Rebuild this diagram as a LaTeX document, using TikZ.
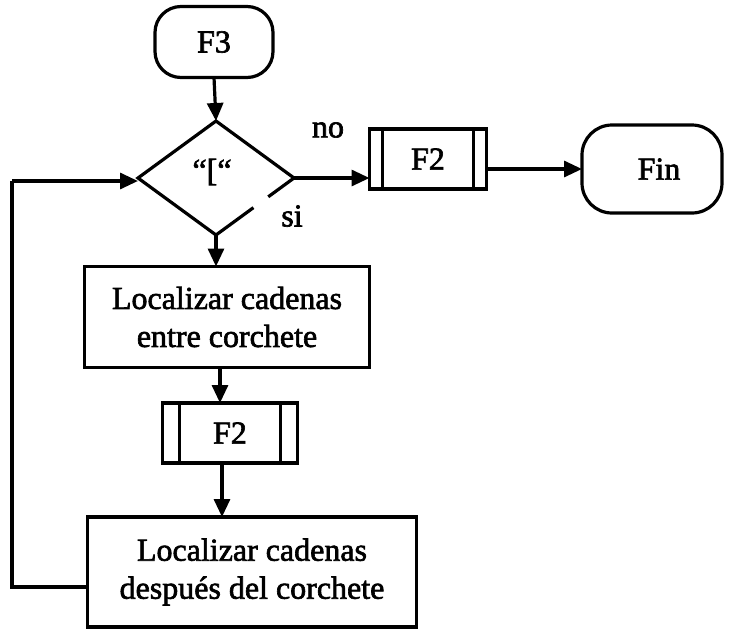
\documentclass[tikz,border=0pt]{standalone}
\usepackage{fontspec}
\setmainfont{Liberation Serif}[FakeBold=2]
\usetikzlibrary{shapes.geometric,arrows.meta,calc}

\tikzset{
  base/.style={line width=3.2pt, font=\fontsize{32}{38}\selectfont, inner sep=0pt, outer sep=0pt},
  terminal/.style={base, draw, rounded corners=26pt},
  procbox/.style={base, draw, align=center},
  subrbox/.style={base, draw},
  decision/.style={base, diamond, aspect=1.37},
  flow/.style={line width=3.2pt, -{Triangle[length=18pt,width=16pt]}},
  link/.style={line width=3.2pt},
  lbl/.style={font=\fontsize{32}{38}\selectfont, inner sep=0pt}
}

\begin{document}
\begin{tikzpicture}[x=1pt,y=-1pt]
\useasboundingbox (0,0) rectangle (731,638);

% nodes
\node[terminal, minimum width=118pt, minimum height=71pt] (f3) at (214,42) {F3};
\node[decision, minimum width=156pt, minimum height=114pt] (dec) at (216,178) {};
\node[lbl] at (212,172) {“[“};
\node[lbl] (no) at (328,130) {no};
\node[lbl] (si) at (292,216) {si};
\node[subrbox, minimum width=117pt, minimum height=60pt] (f2a) at (428,159) {F2};
\node[terminal, minimum width=140pt, minimum height=88pt, rounded corners=30pt] (fin) at (652,169) {\hspace*{14pt}Fin};
\node[procbox, minimum width=285pt, minimum height=101pt] (loc1) at (227,317) {Localizar cadenas\\entre corchete};
\node[subrbox, minimum width=135pt, minimum height=60pt] (f2b) at (230,433) {F2};
\node[procbox, minimum width=329pt, minimum height=110pt] (loc2) at (252,572) {Localizar cadenas\\después del corchete};

% decision outline, lower right edge broken
\draw[link, line join=miter] (dec.east) -- ($(dec.east)!0.33!(dec.south)$);
\draw[link, line join=miter] ($(dec.east)!0.52!(dec.south)$) -- (dec.south) -- (dec.west) -- (dec.north) -- (dec.east);

% side bars of the subroutine boxes
\foreach \b/\d in {f2a/13pt, f2b/17pt} {
  \draw[link] ([xshift=\d]\b.north west) -- ([xshift=\d]\b.south west);
  \draw[link] ([xshift=-\d]\b.north east) -- ([xshift=-\d]\b.south east);
}

% connectors
\coordinate (loopbot) at (12,587);
\coordinate (looptop) at (12,181);
\draw[flow] (f3.south) -- (dec.north);
\draw[flow] (dec.east) -- (dec.east -| f2a.west);
\draw[flow] (f2a.east |- fin.west) -- (fin.west);
\draw[flow] (dec.south) -- (dec.south |- loc1.north);
\draw[flow] ([xshift=-7pt]loc1.south) -- ([xshift=-7pt]loc1.south |- f2b.north);
\draw[flow] ([xshift=-8pt]f2b.south) -- ([xshift=-8pt]f2b.south |- loc2.north);
\draw[link] (loc2.west |- loopbot) -- (loopbot) -- (looptop);
\draw[flow] (looptop) -- (looptop -| dec.west);
\end{tikzpicture}
\end{document}
